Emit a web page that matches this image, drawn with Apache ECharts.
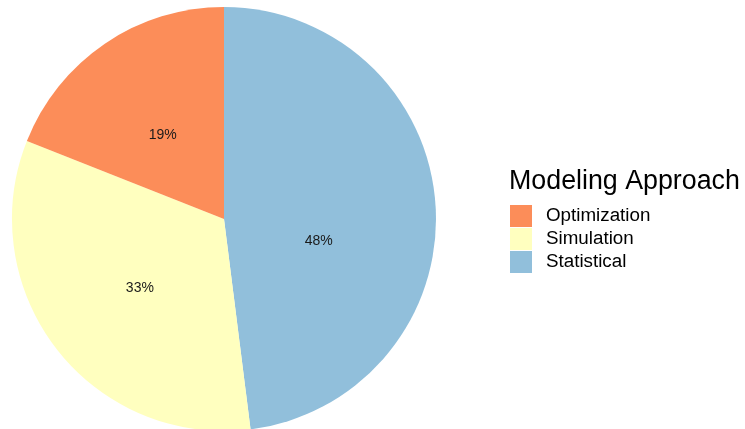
<!DOCTYPE html>
<html>
<head>
<meta charset="utf-8">
<script src="https://cdn.jsdelivr.net/npm/echarts@6/dist/echarts.min.js"></script>
<style>
  html, body { margin: 0; padding: 0; background: #fff; }
  #chart { width: 745px; height: 429px; }
</style>
</head>
<body>
<div id="chart"></div>
<script>
// 饼图数据
var categories = ['Statistical', 'Simulation', 'Optimization'];
var shares = [48, 33, 19];
var legendOrder = ['Optimization', 'Simulation', 'Statistical'];
var colors = { Optimization: '#FC8D59', Simulation: '#FFFFBF', Statistical: '#91BFDB' };

(function () {
  var myChart = echarts.init(document.getElementById('chart'));
  var data = categories.map(function (name, i) {
    return { name: name, value: shares[i], itemStyle: { color: colors[name] } };
  });

  // 标签微调 (跟原图对齐)
  var nudge = [[-14, 29], [2, 2], [0, 6]];

  var option = {
    animation: false,
    title: {
      text: 'Modeling Approach',
      left: 504,
      top: 163,
      textStyle: {
        fontFamily: 'Liberation Sans, Arial, sans-serif',
        fontSize: 26.8,
        fontWeight: 'normal',
        color: '#000'
      }
    },
    legend: {
      orient: 'vertical',
      left: 505,
      top: 200,
      itemWidth: 22,
      itemHeight: 22,
      itemGap: 1,
      icon: 'rect',
      data: legendOrder,
      textStyle: {
        fontFamily: 'Liberation Sans, Arial, sans-serif',
        fontSize: 18.8,
        color: '#000',
        padding: [0, 0, 0, 9]
      }
    },
    series: [{
      type: 'pie',
      center: [224, 219],
      radius: [0, 212],
      startAngle: 90,
      clockwise: true,
      itemStyle: { borderWidth: 0 },
      emphasis: { disabled: true },
      label: {
        show: true,
        position: 'inside',
        formatter: '{c}%',
        fontFamily: 'Liberation Sans, Arial, sans-serif',
        fontSize: 14,
        color: '#1a1a1a'
      },
      labelLayout: function (params) {
        var n = nudge[params.dataIndex];
        return { dx: n[0], dy: n[1] };
      },
      labelLine: { show: false },
      data: data
    }]
  };

  myChart.setOption(option);
  window.addEventListener('resize', function () {
    myChart.resize();
  });
})();
</script>
</body>
</html>
